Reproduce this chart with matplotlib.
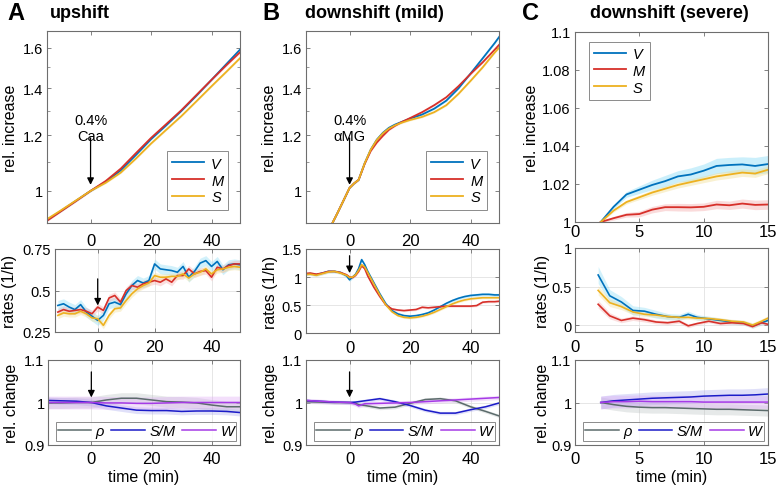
import matplotlib
matplotlib.use("Agg")
import matplotlib.pyplot as plt
import numpy as np
from matplotlib.ticker import FixedLocator, NullFormatter

plt.rcParams['font.family'] = ['Liberation Sans', 'DejaVu Sans']
plt.rcParams['mathtext.default'] = 'regular'

# ---------------- DATA ----------------
series_names = ['V', 'M', 'S']
bottom_names = ['ρ', 'S/M', 'W']

# Panel A (upshift) top: relative increase
t_top_a = [-15, -10, -5, 0, 5, 10, 15, 20, 25, 30, 35, 40, 45, 50]
top_a_V = [0.905, 0.935, 0.967, 1.0, 1.030, 1.070, 1.125, 1.185, 1.240, 1.300, 1.367, 1.440, 1.518, 1.600]
top_a_M = [0.903, 0.934, 0.966, 1.0, 1.033, 1.076, 1.132, 1.190, 1.245, 1.303, 1.370, 1.440, 1.512, 1.585]
top_a_S = [0.908, 0.937, 0.968, 1.0, 1.027, 1.062, 1.112, 1.168, 1.222, 1.278, 1.342, 1.410, 1.480, 1.555]

# Panel B (mild downshift) top
t_top_b = [-6, -4, -2, 0, 1.5, 3, 5, 7, 9, 11, 13, 15, 17, 20, 24, 28, 32, 36, 40, 44, 48, 50]
top_b_V = [0.894, 0.930, 0.969, 1.010, 1.025, 1.037, 1.095, 1.145, 1.183, 1.210, 1.230, 1.243, 1.253, 1.268, 1.285, 1.310, 1.345, 1.400, 1.470, 1.545, 1.625, 1.670]
top_b_M = [0.894, 0.930, 0.969, 1.010, 1.025, 1.037, 1.093, 1.140, 1.172, 1.198, 1.222, 1.238, 1.252, 1.270, 1.295, 1.325, 1.360, 1.410, 1.468, 1.525, 1.590, 1.625]
top_b_S = [0.894, 0.930, 0.969, 1.010, 1.025, 1.037, 1.095, 1.145, 1.182, 1.208, 1.227, 1.240, 1.250, 1.262, 1.275, 1.295, 1.325, 1.375, 1.435, 1.500, 1.575, 1.610]

# Panel C (severe downshift) top
t_top_c = [2, 3, 4, 5, 6, 7, 8, 9, 10, 11, 12, 13, 14, 15]
top_c_V = [1.0, 1.008, 1.0145, 1.017, 1.0195, 1.0215, 1.024, 1.025, 1.027, 1.0295, 1.030, 1.0303, 1.0295, 1.0305]
top_c_M = [1.0, 1.002, 1.0038, 1.0042, 1.0065, 1.0078, 1.0078, 1.0077, 1.008, 1.0092, 1.0088, 1.0097, 1.009, 1.0092]
top_c_S = [1.0, 1.006, 1.0105, 1.013, 1.0155, 1.0175, 1.0195, 1.021, 1.0225, 1.024, 1.025, 1.026, 1.0255, 1.0275]
top_c_errV = [0.0003, 0.001, 0.0015, 0.002, 0.0025, 0.003, 0.003, 0.0035, 0.0035, 0.004, 0.004, 0.004, 0.0045, 0.0045]
top_c_errM = [0.0003, 0.001, 0.0012, 0.0015, 0.0017, 0.0018, 0.002, 0.002, 0.002, 0.0022, 0.0022, 0.0024, 0.0025, 0.0025]
top_c_errS = [0.0003, 0.0008, 0.001, 0.0012, 0.0014, 0.0015, 0.0016, 0.0017, 0.0018, 0.0019, 0.002, 0.002, 0.002, 0.002]

# Panel A middle: rates (1/h)
t_mid_a = [-14, -12, -10, -8, -6, -4, -2, 0, 2, 4, 6, 8, 10, 12, 14, 16, 18, 20, 22, 24, 26, 28, 30, 32, 34, 36, 38, 40, 42, 44, 46, 48, 50]
mid_a_V = [0.41, 0.42, 0.40, 0.385, 0.415, 0.37, 0.345, 0.32, 0.35, 0.42, 0.43, 0.415, 0.48, 0.53, 0.56, 0.545, 0.56, 0.66, 0.63, 0.625, 0.62, 0.61, 0.645, 0.58, 0.615, 0.665, 0.68, 0.645, 0.675, 0.625, 0.655, 0.66, 0.655]
mid_a_M = [0.37, 0.385, 0.375, 0.38, 0.385, 0.375, 0.36, 0.40, 0.38, 0.455, 0.47, 0.43, 0.50, 0.53, 0.52, 0.54, 0.55, 0.56, 0.55, 0.57, 0.55, 0.59, 0.59, 0.63, 0.60, 0.615, 0.62, 0.58, 0.64, 0.63, 0.65, 0.66, 0.66]
mid_a_S = [0.35, 0.365, 0.36, 0.36, 0.375, 0.36, 0.335, 0.33, 0.29, 0.35, 0.39, 0.395, 0.44, 0.48, 0.51, 0.53, 0.545, 0.59, 0.58, 0.58, 0.585, 0.585, 0.60, 0.575, 0.60, 0.61, 0.63, 0.60, 0.625, 0.63, 0.64, 0.645, 0.64]
mid_a_err = [0.03, 0.022, 0.02]

# Panel B middle
t_mid_b = [-15, -13, -11, -9, -7, -5, -3, -1, 0, 1, 2, 3, 4, 5, 6, 8, 10, 12, 14, 16, 18, 20, 22, 24, 26, 28, 30, 32, 34, 36, 38, 40, 42, 44, 46, 48, 50]
mid_b_V = [1.05, 1.06, 1.04, 1.07, 1.10, 1.10, 1.08, 1.02, 0.95, 1.00, 1.05, 1.15, 1.31, 1.22, 1.10, 0.90, 0.70, 0.52, 0.40, 0.34, 0.31, 0.30, 0.31, 0.33, 0.36, 0.41, 0.47, 0.53, 0.58, 0.62, 0.65, 0.67, 0.68, 0.69, 0.69, 0.68, 0.68]
mid_b_M = [1.06, 1.07, 1.05, 1.07, 1.10, 1.10, 1.08, 1.04, 1.00, 0.99, 1.03, 1.10, 1.20, 1.15, 1.02, 0.82, 0.65, 0.50, 0.43, 0.41, 0.40, 0.41, 0.42, 0.46, 0.45, 0.46, 0.47, 0.48, 0.48, 0.48, 0.48, 0.48, 0.49, 0.55, 0.56, 0.56, 0.57]
mid_b_S = [1.04, 1.05, 1.03, 1.06, 1.09, 1.10, 1.07, 1.03, 0.99, 1.00, 1.04, 1.12, 1.22, 1.18, 1.08, 0.88, 0.68, 0.50, 0.38, 0.31, 0.28, 0.27, 0.28, 0.30, 0.33, 0.37, 0.42, 0.47, 0.52, 0.56, 0.59, 0.61, 0.62, 0.63, 0.63, 0.63, 0.63]
mid_b_err = [0.03, 0.02, 0.02]

# Panel C middle
t_mid_c = [1.8, 2.7, 3.6, 4.5, 5.4, 6.3, 7.2, 8.1, 8.8, 9.5, 10.4, 11.3, 12.2, 13.1, 13.8, 14.5, 15.0]
mid_c_V = [0.65, 0.38, 0.30, 0.19, 0.18, 0.14, 0.11, 0.10, 0.14, 0.10, 0.08, 0.06, 0.04, 0.03, -0.01, 0.03, 0.06]
mid_c_M = [0.27, 0.12, 0.06, 0.09, 0.07, 0.04, 0.03, 0.05, -0.01, 0.02, 0.05, 0.02, 0.03, 0.02, -0.02, 0.03, 0.01]
mid_c_S = [0.45, 0.29, 0.24, 0.17, 0.14, 0.13, 0.11, 0.10, 0.10, 0.09, 0.085, 0.07, 0.05, 0.04, 0.00, 0.05, 0.09]
mid_c_errV = [0.11, 0.08, 0.07, 0.06, 0.05, 0.05, 0.04, 0.04, 0.04, 0.035, 0.035, 0.03, 0.03, 0.03, 0.03, 0.03, 0.03]
mid_c_errM = [0.05, 0.04, 0.03, 0.03, 0.03, 0.025, 0.025, 0.025, 0.025, 0.02, 0.02, 0.02, 0.02, 0.02, 0.02, 0.02, 0.02]
mid_c_errS = [0.06, 0.05, 0.04, 0.035, 0.03, 0.03, 0.03, 0.025, 0.025, 0.025, 0.025, 0.025, 0.025, 0.025, 0.03, 0.03, 0.03]

# Panel A bottom: relative change
t_bot_a = [-15, -10, -5, 0, 5, 10, 15, 20, 25, 30, 35, 40, 45, 50]
bot_a_rho = [0.999, 0.999, 1.0, 1.0, 1.006, 1.010, 1.010, 1.006, 1.002, 1.001, 0.999, 0.994, 0.990, 0.990]
bot_a_SM = [1.005, 1.004, 1.003, 1.0, 0.992, 0.987, 0.982, 0.981, 0.981, 0.979, 0.980, 0.980, 0.979, 0.976]
bot_a_W = [1.0, 1.0, 1.0, 1.0, 0.999, 0.999, 0.998, 0.998, 0.999, 1.0, 1.0, 1.0, 1.0, 1.0]
bot_a_err = [0.013, 0.008, 0.015]

# Panel B bottom
t_bot_b = [-15, -10, -5, 0, 2, 3, 5, 10, 15, 20, 25, 30, 35, 40, 45, 50]
bot_b_rho = [1.002, 1.001, 1.0, 1.0, 0.998, 0.995, 0.993, 0.987, 0.989, 0.998, 1.007, 1.009, 1.004, 0.990, 0.979, 0.967]
bot_b_SM = [1.005, 1.003, 1.001, 1.0, 1.001, 1.002, 1.004, 1.009, 1.002, 0.993, 0.982, 0.975, 0.975, 0.983, 0.990, 1.0]
bot_b_W = [1.005, 1.003, 1.001, 1.0, 0.996, 0.992, 0.997, 0.998, 0.999, 1.0, 1.002, 1.004, 1.006, 1.008, 1.010, 1.012]
bot_b_err = [0.004, 0.004, 0.005]

# Panel C bottom
t_bot_c = [2, 3, 4, 5, 6, 7, 8, 9, 10, 11, 12, 13, 14, 15]
bot_c_rho = [1.0, 0.995, 0.991, 0.989, 0.988, 0.988, 0.987, 0.986, 0.985, 0.984, 0.984, 0.983, 0.982, 0.981]
bot_c_SM = [1.0, 1.004, 1.006, 1.008, 1.010, 1.011, 1.012, 1.013, 1.015, 1.016, 1.017, 1.017, 1.018, 1.020]
bot_c_W = [1.0, 1.002, 1.002, 1.003, 1.002, 1.002, 1.002, 1.002, 1.001, 1.001, 1.001, 1.001, 1.001, 1.001]
bot_c_err = [0.013, 0.015, 0.015]

titles = ['upshift', 'downshift (mild)', 'downshift (severe)']
letters = ['A', 'B', 'C']
# ---------------------------------------

W_PX, H_PX = 778, 489
fig = plt.figure(figsize=(W_PX / 100, H_PX / 100), dpi=100)

line_cols = ['#0072BD', '#D7302A', '#EDB120']
band_cols = ['#7FD9F5', '#F4A6A6', '#F2DC8C']
bot_cols = ['#5B6B6B', '#1B1BC8', '#A53AE6']
bot_band = ['#B9C0C0', '#A8A8EE', '#DDA6F5']
FRAME = '#6E6E6E'
XTICK_FS = 12
YTICK_FS = 10.5
LAB_FS = 11.5
LEG_FS = 10.5


def add_ax(l, t, r, b):
    return fig.add_axes([l / W_PX, 1 - b / H_PX, (r - l) / W_PX, (b - t) / H_PX])


def style(ax, grid=False, xpad=6, ypad=3):
    for s in ax.spines.values():
        s.set_color(FRAME)
        s.set_linewidth(0.8)
    ax.tick_params(direction='in', top=True, right=True, length=3, width=0.6, color=FRAME)
    ax.tick_params(axis='x', labelsize=XTICK_FS, pad=xpad)
    ax.tick_params(axis='y', labelsize=YTICK_FS, pad=ypad)
    ax.tick_params(which='minor', direction='in', top=False, right=True, length=2,
                   width=0.5, color=FRAME)
    if grid:
        ax.grid(True, color='#E2E2E2', lw=0.6)
        ax.set_axisbelow(True)


def ylab(xpx, ax_t, ax_b, text):
    fig.text(xpx / W_PX, 1 - (ax_t + ax_b) / 2 / H_PX, text, rotation=90,
             ha='center', va='center', fontsize=LAB_FS)


def xlab(ax_l, ax_r, ypx, text):
    fig.text((ax_l + ax_r) / 2 / W_PX, 1 - ypx / H_PX, text, ha='center', va='center', fontsize=LAB_FS)


def arrow(ax, x, y0, y1):
    ax.annotate('', xy=(x, y1), xytext=(x, y0),
                arrowprops=dict(arrowstyle='-|>', color='black', lw=0.9, mutation_scale=10,
                                shrinkA=0, shrinkB=0))


def italic_legend(leg):
    leg.get_frame().set_edgecolor(FRAME)
    leg.get_frame().set_linewidth(0.7)
    for tx in leg.get_texts():
        tx.set_fontstyle('italic')


XL_AB = (-14.4, 49.4)

# geometry (pixels): left, top, right, bottom
geo = {
    'At': (47, 32, 240, 224), 'Am': (55, 250, 240, 333), 'Ab': (48, 361, 240, 446),
    'Bt': (306, 32, 499, 224), 'Bm': (306, 250, 499, 334), 'Bb': (306, 361, 499, 446),
    'Ct': (575, 33, 768, 223), 'Cm': (575, 249, 768, 333), 'Cb': (575, 361, 768, 446),
}

# ---------- top row ----------
top_data = [(t_top_a, [top_a_V, top_a_M, top_a_S]), (t_top_b, [top_b_V, top_b_M, top_b_S])]
for key, (tt, ys), ann, ylx in zip(['At', 'Bt'], top_data, ['0.4%\nCaa', '0.4%\nαMG'], [11, 269]):
    ax = add_ax(*geo[key])
    ax.set_yscale('log')
    for y, c, bc, n in zip(ys, line_cols, band_cols, series_names):
        y = np.array(y)
        ax.fill_between(tt, y * 0.997, y * 1.003, color=bc, alpha=0.35, lw=0)
        ax.plot(tt, y, color=c, lw=1.3, label=n)
    ax.set_xlim(*XL_AB)
    ax.set_ylim(0.9, 1.69)
    ax.yaxis.set_major_locator(FixedLocator([1, 1.2, 1.4, 1.6]))
    ax.set_yticklabels(['1', '1.2', '1.4', '1.6'])
    ax.yaxis.set_minor_locator(FixedLocator([0.9, 1.1, 1.3, 1.5]))
    ax.yaxis.set_minor_formatter(NullFormatter())
    ax.set_xticks([0, 20, 40])
    style(ax, xpad=7)
    leg = ax.legend(loc='lower right', bbox_to_anchor=(0.955, 0.055), fontsize=LEG_FS,
                    frameon=True, fancybox=False, handlelength=2.2, handletextpad=0.5,
                    borderpad=0.35, labelspacing=0.2, borderaxespad=0.2)
    italic_legend(leg)
    ax.text(0, 1.228, ann, ha='center', va='center', fontsize=10.5, linespacing=1.15)
    arrow(ax, 0, 1.19, 1.02)
    l, t, r, b = geo[key]
    ylab(ylx, t, b, 'rel. increase')

# C top
ax = add_ax(*geo['Ct'])
for y, e, c, bc, n in zip([top_c_V, top_c_M, top_c_S], [top_c_errV, top_c_errM, top_c_errS],
                          line_cols, band_cols, series_names):
    y = np.array(y); e = np.array(e)
    ax.fill_between(t_top_c, y - e, y + e, color=bc, alpha=0.4, lw=0)
    ax.plot(t_top_c, y, color=c, lw=1.3, label=n)
ax.set_xlim(0, 15)
ax.set_ylim(1, 1.1)
ax.set_yticks([1, 1.02, 1.04, 1.06, 1.08, 1.1])
ax.set_yticklabels(['1', '1.02', '1.04', '1.06', '1.08', '1.1'])
ax.set_xticks([0, 5, 10, 15])
style(ax, xpad=1.5)
leg = ax.legend(loc='upper left', bbox_to_anchor=(0.055, 0.965), fontsize=LEG_FS,
                frameon=True, fancybox=False, handlelength=2.2, handletextpad=0.5,
                borderpad=0.35, labelspacing=0.2, borderaxespad=0.2)
italic_legend(leg)
l, t, r, b = geo['Ct']
ylab(531, t, b, 'rel. increase')

# ---------- middle row ----------
# A
ax = add_ax(*geo['Am'])
for y, c, bc, e in zip([mid_a_V, mid_a_M, mid_a_S], line_cols, band_cols, mid_a_err):
    y = np.array(y)
    ax.fill_between(t_mid_a, y - e, y + e, color=bc, alpha=0.35, lw=0)
for y, c in zip([mid_a_V, mid_a_M, mid_a_S], line_cols):
    ax.plot(t_mid_a, y, color=c, lw=1.2)
ax.set_xlim(-15, 50)
ax.set_ylim(0.25, 0.75)
ax.set_yticks([0.25, 0.5, 0.75])
ax.set_yticklabels(['0.25', '0.5', '0.75'])
ax.set_xticks([0, 20, 40])
style(ax, grid=True, xpad=5)
arrow(ax, 0, 0.57, 0.41)
l, t, r, b = geo['Am']
ylab(10, t, b, 'rates (1/h)')

# B
ax = add_ax(*geo['Bm'])
for y, c, bc, e in zip([mid_b_V, mid_b_M, mid_b_S], line_cols, band_cols, mid_b_err):
    y = np.array(y)
    ax.fill_between(t_mid_b, y - e, y + e, color=bc, alpha=0.35, lw=0)
for y, c in zip([mid_b_V, mid_b_M, mid_b_S], line_cols):
    ax.plot(t_mid_b, y, color=c, lw=1.2)
ax.set_xlim(*XL_AB)
ax.set_ylim(0, 1.5)
ax.set_yticks([0, 0.5, 1, 1.5])
ax.set_yticklabels(['0', '0.5', '1', '1.5'])
ax.set_xticks([0, 20, 40])
style(ax, grid=True, xpad=5)
arrow(ax, 0, 1.38, 1.07)
l, t, r, b = geo['Bm']
ylab(270, t, b, 'rates (1/h)')

# C
ax = add_ax(*geo['Cm'])
for y, e, bc in zip([mid_c_V, mid_c_M, mid_c_S], [mid_c_errV, mid_c_errM, mid_c_errS], band_cols):
    y = np.array(y); e = np.array(e)
    ax.fill_between(t_mid_c, y - e, y + e, color=bc, alpha=0.35, lw=0)
for y, c in zip([mid_c_V, mid_c_M, mid_c_S], line_cols):
    ax.plot(t_mid_c, y, color=c, lw=1.2)
ax.set_xlim(0, 15)
ax.set_ylim(-0.09, 1)
ax.set_yticks([0, 0.5, 1])
ax.set_yticklabels(['0', '0.5', '1'])
ax.set_xticks([0, 5, 10, 15])
style(ax, grid=True, xpad=5, ypad=2.5)
l, t, r, b = geo['Cm']
ylab(543, t, b, 'rates (1/h)')

# ---------- bottom row ----------
bot_sets = [
    ('Ab', t_bot_a, [bot_a_rho, bot_a_SM, bot_a_W], bot_a_err, True, 12),
    ('Bb', t_bot_b, [bot_b_rho, bot_b_SM, bot_b_W], bot_b_err, True, 271),
    ('Cb', t_bot_c, [bot_c_rho, bot_c_SM, bot_c_W], bot_c_err, False, 543),
]
for key, tt, ys, errs, has_arrow, ylx in bot_sets:
    ax = add_ax(*geo[key])
    for y, bc, e in zip(ys, bot_band, errs):
        y = np.array(y)
        ax.fill_between(tt, y - e, y + e, color=bc, alpha=0.35, lw=0)
    for y, c, n in zip(ys, bot_cols, bottom_names):
        ax.plot(tt, y, color=c, lw=1.1, label=n)
    ax.set_ylim(0.9, 1.1)
    ax.set_yticks([0.9, 1, 1.1])
    ax.set_yticklabels(['0.9', '1', '1.1'])
    if key == 'Cb':
        ax.set_xlim(0, 15)
        ax.set_xticks([0, 5, 10, 15])
    else:
        ax.set_xlim(*XL_AB)
        ax.set_xticks([0, 20, 40])
    style(ax, grid=True, xpad=4, ypad=2.5)
    if has_arrow:
        arrow(ax, 0, 1.072, 1.012)
    leg = ax.legend(loc='lower center', bbox_to_anchor=(0.51, 0.035), ncol=3, fontsize=LEG_FS,
                    frameon=True, fancybox=False, handlelength=2.3, handletextpad=0.3,
                    columnspacing=0.5, borderpad=0.15, borderaxespad=0.1)
    italic_legend(leg)
    l, t, r, b = geo[key]
    ylab(ylx, t, b, 'rel. change')
    xlab(l, r, 478, 'time (min)')

# ---------- titles ----------
for lx, tx, letter, title in [(7, 50, 'A', titles[0]), (262, 305, 'B', titles[1]), (522, 590, 'C', titles[2])]:
    fig.text(lx / W_PX, 1 - 13 / H_PX, letter, fontsize=17, fontweight='bold', ha='left', va='center')
    fig.text(tx / W_PX, 1 - 13 / H_PX, title, fontsize=13, fontweight='bold', ha='left', va='center')

fig.savefig('out.png', dpi=100)
